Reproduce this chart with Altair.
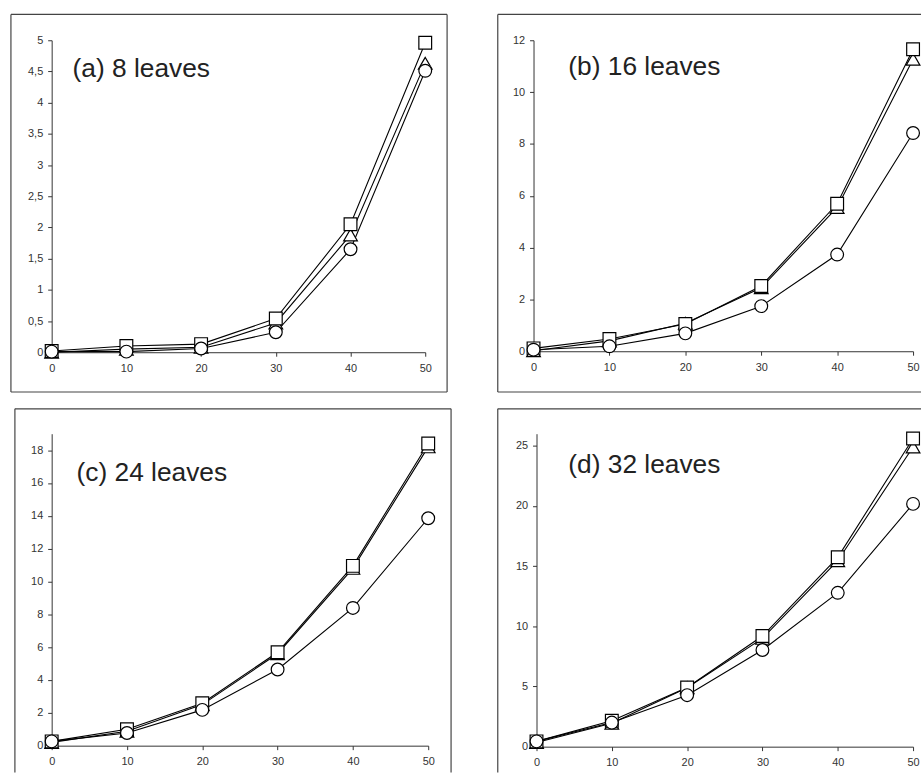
import altair as alt
import pandas as pd

# ---------------- data ----------------
x_values = [0, 10, 20, 30, 40, 50]
series_names = ["square", "triangle", "circle"]
panel_titles = ["(a) 8 leaves", "(b) 16 leaves", "(c) 24 leaves", "(d) 32 leaves"]
y_max = [5, 12, 19, 26]
y_ticks = [
    [0, 0.5, 1, 1.5, 2, 2.5, 3, 3.5, 4, 4.5, 5],
    [0, 2, 4, 6, 8, 10, 12],
    [0, 2, 4, 6, 8, 10, 12, 14, 16, 18],
    [0, 5, 10, 15, 20, 25],
]

a_square = [0.02, 0.10, 0.13, 0.54, 2.05, 4.96]
a_triangle = [0.00, 0.05, 0.08, 0.47, 1.88, 4.63]
a_circle = [0.01, 0.01, 0.06, 0.32, 1.65, 4.51]

b_square = [0.11, 0.47, 1.05, 2.52, 5.69, 11.65]
b_triangle = [0.02, 0.40, 1.08, 2.45, 5.55, 11.27]
b_circle = [0.06, 0.19, 0.69, 1.74, 3.73, 8.42]

c_square = [0.26, 1.00, 2.58, 5.69, 10.95, 18.40]
c_triangle = [0.20, 0.88, 2.50, 5.60, 10.80, 18.20]
c_circle = [0.26, 0.77, 2.18, 4.64, 8.39, 13.85]

d_square = [0.44, 2.15, 4.91, 9.19, 15.73, 25.60]
d_triangle = [0.35, 1.95, 4.90, 9.00, 15.45, 24.90]
d_circle = [0.44, 2.00, 4.28, 8.03, 12.78, 20.17]

panel_series = [
    (a_square, a_triangle, a_circle),
    (b_square, b_triangle, b_circle),
    (c_square, c_triangle, c_circle),
    (d_square, d_triangle, d_circle),
]

# ---------------- layout / style ----------------
# plot sizes (w, h), frame (L, T, R, B relative to plot origin), which edges, title position
layout = [
    dict(w=376, h=314, frame=(-41, -26, 398, 354), edges="ltrb", title=(21, 29)),
    dict(w=382, h=313, frame=(-36, -26, 390, 354), edges="ltb", title=(35, 27)),
    dict(w=379, h=314, frame=(-37, -25, 402, 341), edges="ltr", title=(25, 40)),
    dict(w=379, h=315, frame=(-39, -25, 387, 341), edges="lt", title=(32, 32)),
]
frame_color = "#444444"
marker_styles = [("triangle", "triangle-up", 190), ("square", "square", 165), ("circle", "circle", 165)]

one_row = pd.DataFrame({"k": [0]})


def edge(x1, y1, x2, y2):
    return alt.Chart(one_row).mark_rule(color=frame_color, strokeWidth=1.2).encode(
        x=alt.value(x1), y=alt.value(y1), x2=alt.value(x2), y2=alt.value(y2)
    )


def make_panel(i):
    sq, tr, ci = panel_series[i]
    lay = layout[i]
    df = pd.DataFrame({
        "x": x_values * 3,
        "y": list(sq) + list(tr) + list(ci),
        "series": [series_names[0]] * 6 + [series_names[1]] * 6 + [series_names[2]] * 6,
    })
    xenc = alt.X("x:Q", scale=alt.Scale(domain=[0, 50], nice=False, zero=False),
                 axis=alt.Axis(values=x_values, title=None, grid=False, labelPadding=6,
                               labelFlush=False))
    yenc = alt.Y("y:Q", scale=alt.Scale(domain=[0, y_max[i]], nice=False),
                 axis=alt.Axis(values=y_ticks[i], title=None, grid=False, labelPadding=5,
                               labelExpr="replace(toString(datum.value), '.', ',')"))

    L, T, R, B = lay["frame"]
    layers = []
    if "l" in lay["edges"]:
        layers.append(edge(L, T, L, B))
    if "t" in lay["edges"]:
        layers.append(edge(L, T, R, T))
    if "r" in lay["edges"]:
        layers.append(edge(R, T, R, B))
    if "b" in lay["edges"]:
        layers.append(edge(L, B, R, B))

    lines = alt.Chart(df).mark_line(color="black", strokeWidth=1.1).encode(
        x=xenc, y=yenc, detail="series:N"
    )
    layers.append(lines)
    for name, shape, size in marker_styles:
        pts = alt.Chart(df).transform_filter(alt.datum.series == name).mark_point(
            shape=shape, size=size, filled=True, fill="white", stroke="black",
            strokeWidth=1.2, opacity=1
        ).encode(x=xenc, y=yenc)
        layers.append(pts)

    tx, ty = lay["title"]
    title = alt.Chart(pd.DataFrame({"t": [panel_titles[i]]})).mark_text(
        align="left", baseline="middle", fontSize=26.5, font="Liberation Sans", color="#222222"
    ).encode(text="t:N", x=alt.value(tx), y=alt.value(ty))
    layers.append(title)

    return alt.layer(*layers).properties(width=lay["w"], height=lay["h"])


chart = alt.concat(
    make_panel(0), make_panel(1), make_panel(2), make_panel(3),
    columns=2, align="none", spacing={"row": 15, "column": 45},
).properties(
    padding={"left": 10, "top": 11, "right": 0, "bottom": 0},
    background="white",
).configure_view(stroke=None).configure_axis(
    domainColor="#333333", tickColor="#333333", labelColor="#333333",
    labelFont="Liberation Sans", labelFontSize=11, tickSize=4,
    domainWidth=1, tickWidth=1,
)

chart.save("out.html", embed_options={"renderer": "svg", "actions": False})
